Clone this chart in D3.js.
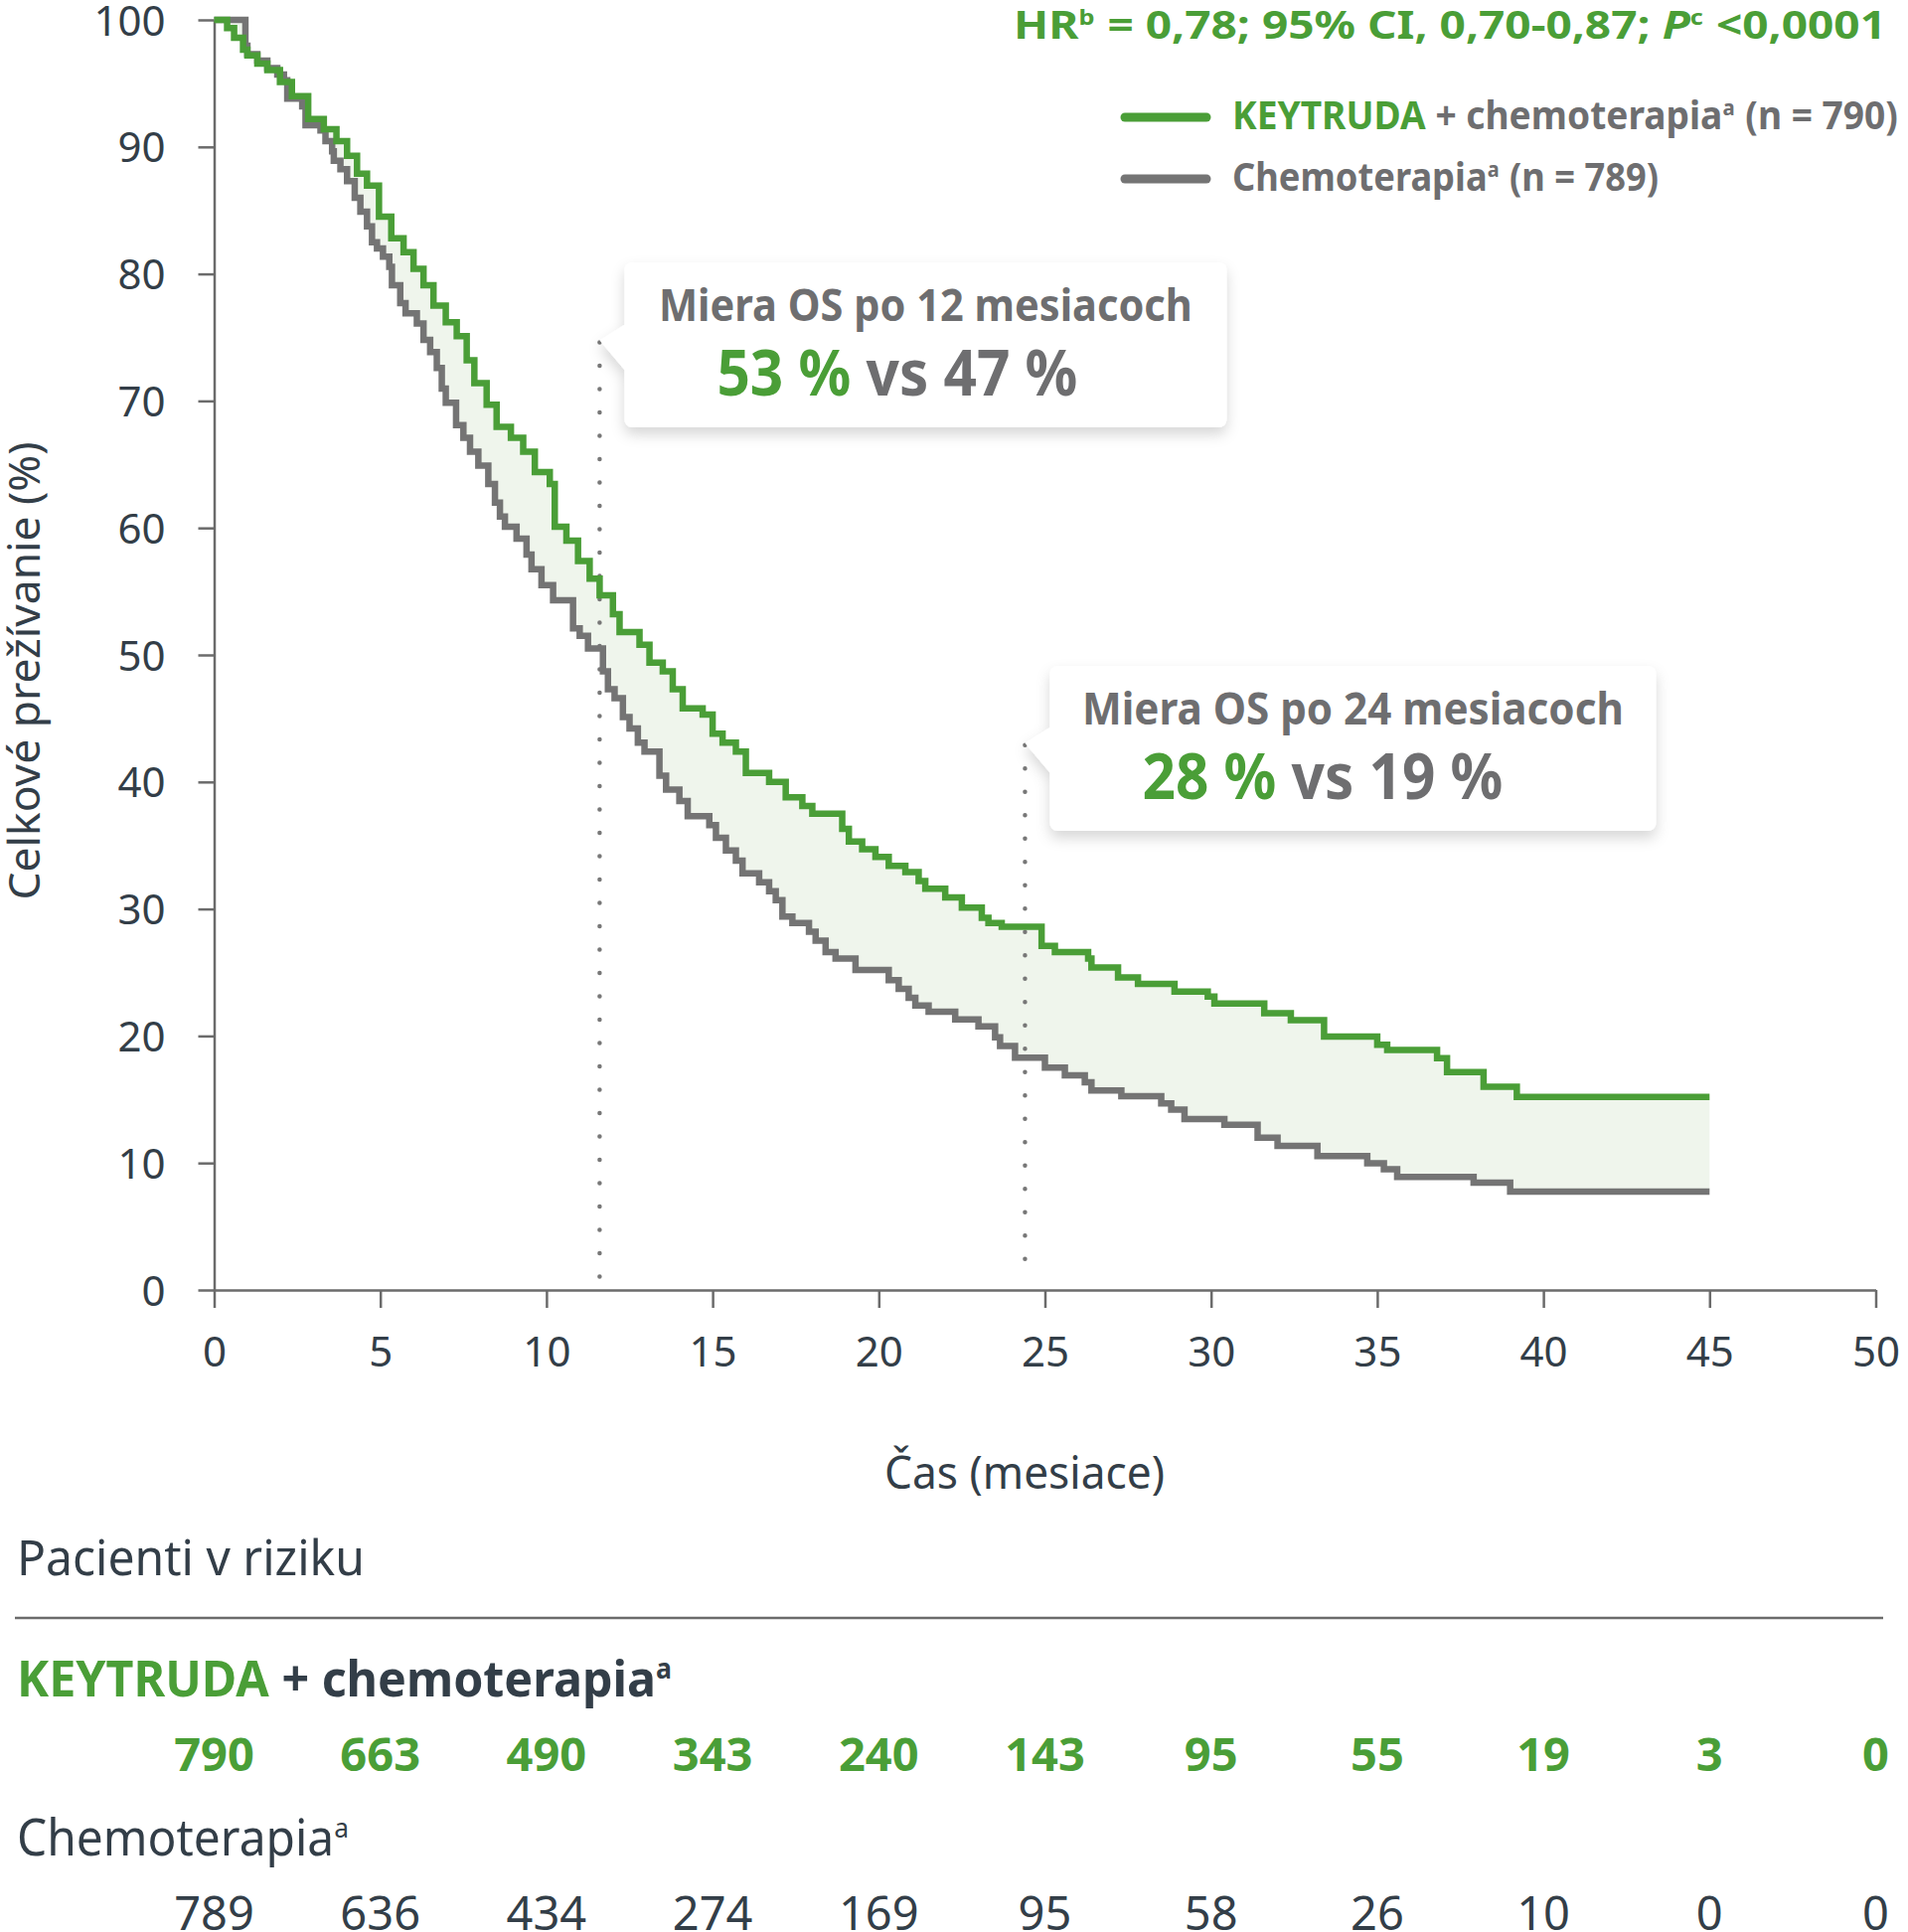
<!DOCTYPE html>
<html lang="sk">
  <head>
    <meta charset="utf-8">
    <title>OS KEYTRUDA + chemoterapia</title>
    <script src="https://d3js.org/d3.v7.min.js"></script>
    <style>
      body { margin: 0; background: #fff; }
      svg text { font-family: "Noto Sans", "Open Sans", sans-serif; }
    </style>
  </head>
  <body>
    <script>

      // ---- data ----

      // KEYTRUDA + chemoterapia: time of each drop (months) and survival after it (%)
      const greenT = [0, 0.39, 0.6, 0.87, 1.0, 1.3, 1.6, 1.98, 2.34, 2.83, 3.3, 3.68, 4.0, 4.3, 4.6, 4.96,
                      5.33, 5.7, 6.0, 6.3, 6.6, 6.97, 7.3, 7.6, 7.83, 8.2, 8.5, 8.93, 9.3, 9.65, 10.1, 10.25,
                      10.6, 10.95, 11.3, 11.6, 12.0, 12.2, 12.8, 13.1, 13.5, 13.8, 14.1, 14.7, 15.0, 15.3,
                      15.7, 16.0, 16.7, 17.2, 17.7, 18.0, 18.9, 19.1, 19.5, 19.9, 20.3, 20.8, 21.2, 21.4,
                      22.0, 22.5, 23.1, 23.3, 23.7, 24.9, 25.3, 26.3, 26.4, 27.2, 27.8, 28.9, 29.9, 30.1,
                      31.6, 32.4, 33.4, 35.0, 35.3, 36.8, 37.1, 38.2, 39.2, 45];
      const greenS = [100, 99.35, 98.6, 97.65, 97.2, 96.55, 96.05, 95.1, 94.0, 92.2, 91.4, 90.45, 89.3, 87.9, 86.95, 84.5,
                      82.8, 81.7, 80.4, 79.1, 77.5, 76.2, 75.1, 73.2, 71.4, 69.7, 67.95, 67.1, 66.0, 64.4, 63.45, 60.1,
                      59.0, 57.4, 56.0, 54.7, 53.2, 51.8, 50.8, 49.4, 48.7, 47.3, 45.8, 45.3, 43.8, 43.1,
                      42.4, 40.7, 40.0, 38.8, 38.1, 37.5, 36.3, 35.3, 34.7, 34.1, 33.4, 32.9, 32.2, 31.6,
                      30.9, 30.1, 29.3, 28.9, 28.6, 27.1, 26.6, 26.1, 25.4, 24.6, 24.1, 23.5, 23.1, 22.55,
                      21.8, 21.25, 19.95, 19.3, 18.9, 18.25, 17.15, 16.0, 15.2, 15.2];

      // Chemoterapia
      const grayT = [0, 0.94, 1.0, 1.3, 1.6, 1.9, 2.1, 2.2, 2.65, 2.75, 3.2, 3.35, 3.55, 3.6, 3.8, 4.0, 4.23,
                     4.4, 4.6, 4.75, 4.9, 5.08, 5.27, 5.35, 5.6, 5.76, 6.1, 6.3, 6.5, 6.7, 6.85, 6.97, 7.28,
                     7.5, 7.7, 7.95, 8.25, 8.45, 8.6, 8.75, 9.1, 9.4, 9.55, 9.85, 10.2, 10.8, 11.0, 11.25,
                     11.7, 11.85, 12.05, 12.3, 12.5, 12.75, 12.95, 13.4, 13.6, 14.0, 14.25, 14.9, 15.1, 15.4,
                     15.7, 15.9, 16.4, 16.7, 16.9, 17.1, 17.4, 17.9, 18.1, 18.4, 18.7, 19.3, 20.3, 20.6,
                     20.9, 21.1, 21.5, 22.3, 23.0, 23.5, 23.65, 24.1, 25.0, 25.6, 26.2, 26.4, 27.3, 28.5,
                     28.8, 29.2, 30.4, 31.4, 32.0, 33.2, 34.7, 35.2, 35.6, 37.9, 39.0, 45];
      const grayS = [100, 97.96, 97.3, 96.8, 96.2, 95.7, 95.25, 93.8, 93.2, 91.7, 91.3, 90.45, 89.65, 88.9, 88.25, 87.3, 86.0,
                     84.9, 83.75, 82.5, 82.0, 81.35, 80.55, 79.1, 77.7, 76.9, 76.1, 74.8, 73.85, 72.6, 70.97, 69.85, 68.1,
                     67.1, 66.0, 64.9, 63.45, 62.0, 60.9, 60.1, 59.15, 57.9, 56.75, 55.5, 54.3, 52.1, 51.5, 50.5,
                     48.7, 47.3, 46.6, 45.1, 44.2, 43.1, 42.4, 40.5, 39.4, 38.5, 37.3, 36.6, 35.6, 34.6,
                     33.8, 32.8, 32.1, 31.4, 30.7, 29.4, 28.9, 28.2, 27.5, 26.6, 26.1, 25.2, 24.4, 23.7,
                     23.0, 22.4, 21.9, 21.3, 20.75, 19.9, 19.2, 18.3, 17.5, 16.9, 16.35, 15.7, 15.25, 14.7,
                     14.2, 13.45, 13.0, 12.0, 11.35, 10.55, 9.97, 9.5, 8.9, 8.45, 7.75, 7.75];

      const xTickValues = [0, 5, 10, 15, 20, 25, 30, 35, 40, 45, 50];
      const yTickValues = [0, 10, 20, 30, 40, 50, 60, 70, 80, 90, 100];

      // patients at risk, one per x tick
      const riskGreen = [790, 663, 490, 343, 240, 143, 95, 55, 19, 3, 0];
      const riskGray = [789, 636, 434, 274, 169, 95, 58, 26, 10, 0, 0];

      // OS landmark call-outs: where the dotted line stands, its top, and the two rates
      const landmarkT = [11.6, 24.4];
      const landmarkTop = [74.6, 42.9];
      const landmarkTitle = ["Miera OS po 12 mesiacoch", "Miera OS po 24 mesiacoch"];
      const landmarkGreen = ["53 %", "28 %"];
      const landmarkGray = ["47 %", "19 %"];

      // ---- drawing ----

      const w = 1920;
      const h = 1944;

      const green = "#4a9e37";
      const grey = "#747474";
      const greyText = "#6e6e70";
      const dark = "#333e48";
      const axisCol = "#6b6b6b";

      const xScale = d3.scaleLinear().domain([0, 50]).range([215.5, 1887.5]);
      const yScale = d3.scaleLinear().domain([0, 100]).range([1298, 20]);

      const svg = d3.select("body")
                    .append("svg")
                    .attr("width", w)
                    .attr("height", h);

      svg.append("rect")
         .attr("width", w)
         .attr("height", h)
         .attr("fill", "white");

      const defs = svg.append("defs");
      defs.append("filter")
          .attr("id", "shadow")
          .attr("x", "-10%").attr("y", "-20%")
          .attr("width", "130%").attr("height", "160%")
          .append("feDropShadow")
          .attr("dx", 0).attr("dy", 7)
          .attr("stdDeviation", 7)
          .attr("flood-color", "#000")
          .attr("flood-opacity", 0.16);

      const greenData = greenT.map((t, i) => ({t: t, s: greenS[i]}));
      const grayData = grayT.map((t, i) => ({t: t, s: grayS[i]}));

      // survival at time t for a step curve
      function stepAt(data, t) {
        let s = data[0].s;
        for (const d of data) {
          if (d.t <= t) s = d.s;
        }
        return s;
      }

      // shaded band between the two curves
      const allT = Array.from(new Set(greenT.concat(grayT))).sort((a, b) => a - b);
      const band = allT.map(t => ({t: t, hi: stepAt(greenData, t), lo: stepAt(grayData, t)}));

      const area = d3.area()
                     .x(d => xScale(d.t))
                     .y0(d => yScale(d.lo))
                     .y1(d => yScale(d.hi))
                     .curve(d3.curveStepAfter);

      svg.append("path")
         .datum(band)
         .attr("d", area)
         .attr("fill", "#eff5ec");

      // axes

      const yAxis = d3.axisLeft(yScale)
                      .tickValues(yTickValues)
                      .tickSize(16)
                      .tickSizeOuter(0)
                      .tickPadding(33);

      const xAxis = d3.axisBottom(xScale)
                      .tickValues(xTickValues)
                      .tickSize(18)
                      .tickSizeOuter(0)
                      .tickPadding(29);

      const gy = svg.append("g")
                    .attr("transform", `translate(${xScale(0)},0)`)
                    .call(yAxis);

      const gx = svg.append("g")
                    .attr("transform", `translate(0,${yScale(0)})`)
                    .call(xAxis);

      [gx, gy].forEach(g => {
        g.select(".domain").attr("stroke", axisCol).attr("stroke-width", 2.5);
        g.selectAll(".tick line").attr("stroke", axisCol).attr("stroke-width", 2.5);
        g.selectAll(".tick text")
         .attr("fill", dark)
         .attr("font-size", 42)
         .style("font-family", null);
      });
      gy.selectAll(".tick text").attr("dy", "0.36em");

      // dotted landmark lines
      landmarkT.forEach((t, i) => {
        svg.append("line")
           .attr("x1", xScale(t)).attr("x2", xScale(t))
           .attr("y1", yScale(landmarkTop[i])).attr("y2", yScale(1))
           .attr("stroke", "#777")
           .attr("stroke-width", 4.5)
           .attr("stroke-linecap", "round")
           .attr("stroke-dasharray", "0 23.5");
      });

      // curves
      const line = d3.line()
                     .x(d => xScale(d.t))
                     .y(d => yScale(d.s))
                     .curve(d3.curveStepAfter);

      svg.append("path")
         .datum(grayData)
         .attr("d", line)
         .attr("fill", "none")
         .attr("stroke", grey)
         .attr("stroke-width", 6.5);

      svg.append("path")
         .datum(greenData)
         .attr("d", line)
         .attr("fill", "none")
         .attr("stroke", green)
         .attr("stroke-width", 6.5);

      // a line of text in coloured pieces (superscripts too), laid side by side;
      // len squeezes the whole line to the condensed width of the original typeface
      function richText(x, y, size, anchor, parts, len) {
        const inner = svg.append("g");
        let cx = 0;
        parts.forEach(p => {
          const t = inner.append("text")
                         .attr("x", cx)
                         .attr("y", p.sup ? -size * 0.36 : 0)
                         .attr("font-size", p.sup ? size * 0.55 : size)
                         .attr("font-weight", p.bold ? 700 : 400)
                         .attr("fill", p.fill)
                         .style("white-space", "pre")
                         .text(p.text);
          if (p.italic) t.attr("font-style", "italic");
          cx += t.node().getComputedTextLength() + (p.sup ? 1 : 0);
        });
        const sx = len ? len / cx : 1;
        const x0 = anchor === "end" ? x - cx * sx : anchor === "middle" ? x - cx * sx / 2 : x;
        inner.attr("transform", `translate(${x0},${y}) scale(${sx},1)`);
        return inner;
      }

      // call-out boxes
      const boxTop = [264, 670];
      const boxWidth = [606, 610];
      const titleLen = [537, 545];
      landmarkT.forEach((t, i) => {
        const tipX = xScale(t);
        const tipY = yScale(landmarkTop[i]);
        const bx = tipX + 25;
        const by = boxTop[i];
        const bw = boxWidth[i];
        const bh = 166;

        const g = svg.append("g").attr("filter", "url(#shadow)");
        g.append("rect")
         .attr("x", bx).attr("y", by)
         .attr("width", bw).attr("height", bh)
         .attr("rx", 8)
         .attr("fill", "white");
        g.append("path")
         .attr("d", `M${bx + 2},${tipY - 19} L${tipX},${tipY - 2} L${bx + 2},${tipY + 30} Z`)
         .attr("fill", "white");

        richText(bx + bw / 2, by + 59, 45, "middle", [
          {text: landmarkTitle[i], fill: greyText, bold: true}
        ], titleLen[i]);
        richText(bx + 93, by + 134, 64, "start", [
          {text: landmarkGreen[i], fill: green, bold: true},
          {text: " vs " + landmarkGray[i], fill: greyText, bold: true}
        ], 363);
      });

      // hazard ratio line
      richText(1898, 39, 40, "end", [
        {text: "HR", fill: green, bold: true},
        {text: "b", fill: green, bold: true, sup: true},
        {text: " = 0,78; 95% CI, 0,70-0,87; ", fill: green, bold: true},
        {text: "P", fill: green, bold: true, italic: true},
        {text: "c", fill: green, bold: true, sup: true},
        {text: " <0,0001", fill: green, bold: true}
      ], 878);

      // legend
      const legendRows = [
        {y: 118, col: green, len: 670, parts: [
          {text: "KEYTRUDA", fill: green, bold: true},
          {text: " + chemoterapia", fill: greyText, bold: true},
          {text: "a", fill: greyText, bold: true, sup: true},
          {text: " (n = 790)", fill: greyText, bold: true}
        ]},
        {y: 180, col: grey, len: 429, parts: [
          {text: "Chemoterapia", fill: greyText, bold: true},
          {text: "a", fill: greyText, bold: true, sup: true},
          {text: " (n = 789)", fill: greyText, bold: true}
        ]}
      ];
      legendRows.forEach(r => {
        svg.append("line")
           .attr("x1", 1132).attr("x2", 1214)
           .attr("y1", r.y).attr("y2", r.y)
           .attr("stroke", r.col)
           .attr("stroke-width", 9)
           .attr("stroke-linecap", "round");
        richText(1240, r.y + 12, 40, "start", r.parts, r.len);
      });

      // axis titles
      svg.append("text")
         .attr("transform", `translate(40,${yScale(50) + 16}) rotate(-90)`)
         .attr("text-anchor", "middle")
         .attr("font-size", 44)
         .attr("fill", dark)
         .attr("textLength", 461)
         .attr("lengthAdjust", "spacingAndGlyphs")
         .text("Celkové prežívanie (%)");

      svg.append("text")
         .attr("x", 1031)
         .attr("y", 1498)
         .attr("text-anchor", "middle")
         .attr("font-size", 46)
         .attr("fill", dark)
         .attr("textLength", 282)
         .attr("lengthAdjust", "spacingAndGlyphs")
         .text("Čas (mesiace)");

      // patients at risk table
      richText(17, 1585, 50, "start", [
        {text: "Pacienti v riziku", fill: dark}
      ], 350);

      svg.append("line")
         .attr("x1", 15).attr("x2", 1895)
         .attr("y1", 1628).attr("y2", 1628)
         .attr("stroke", axisCol)
         .attr("stroke-width", 2.5);

      richText(17, 1707, 51, "start", [
        {text: "KEYTRUDA", fill: green, bold: true},
        {text: " + chemoterapia", fill: dark, bold: true},
        {text: "a", fill: dark, bold: true, sup: true}
      ], 660);

      richText(17, 1867, 51, "start", [
        {text: "Chemoterapia", fill: dark},
        {text: "a", fill: dark, sup: true}
      ], 335);

      svg.append("g")
         .selectAll("text")
         .data(riskGreen)
         .join("text")
         .attr("x", (d, i) => xScale(xTickValues[i]))
         .attr("y", 1782)
         .attr("text-anchor", "middle")
         .attr("font-size", 47)
         .attr("font-weight", 700)
         .attr("fill", green)
         .text(d => d);

      svg.append("g")
         .selectAll("text")
         .data(riskGray)
         .join("text")
         .attr("x", (d, i) => xScale(xTickValues[i]))
         .attr("y", 1942)
         .attr("text-anchor", "middle")
         .attr("font-size", 47)
         .attr("fill", dark)
         .text(d => d);

    </script>
  </body>
</html>
